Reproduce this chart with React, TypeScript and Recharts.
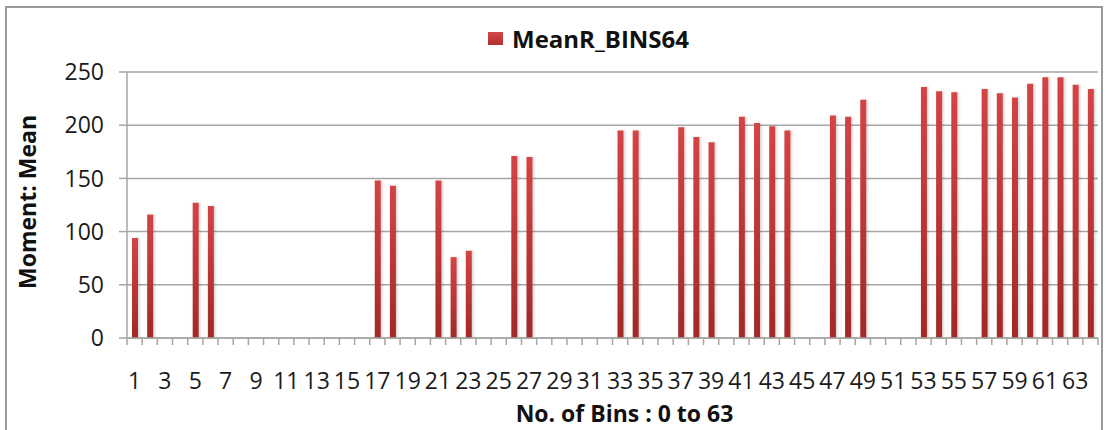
import React from 'react';
import { BarChart, Bar, XAxis, YAxis, CartesianGrid, Legend } from 'recharts';

const bins = [
  '1', '2', '3', '4', '5', '6', '7', '8', '9', '10', '11', '12', '13', '14', '15', '16',
  '17', '18', '19', '20', '21', '22', '23', '24', '25', '26', '27', '28', '29', '30', '31', '32',
  '33', '34', '35', '36', '37', '38', '39', '40', '41', '42', '43', '44', '45', '46', '47', '48',
  '49', '50', '51', '52', '53', '54', '55', '56', '57', '58', '59', '60', '61', '62', '63', '64',
];

const meanR = [
  94, 116, null, null, 127, 124, null, null, null, null, null, null, null, null, null, null,
  148, 143, null, null, 148, 76, 82, null, null, 171, 170, null, null, null, null, null,
  195, 195, null, null, 198, 189, 184, null, 208, 202, 199, 195, null, null, 209, 208,
  224, null, null, null, 236, 232, 231, null, 234, 230, 226, 239, 245, 245, 238, 234,
];

const yTicks = [0, 50, 100, 150, 200, 250];

const FONT = '"Open Sans", "Noto Sans", sans-serif';
const GRID = '#a6a6a6';

const data = bins.map((bin, i) => ({ bin, MeanR_BINS64: meanR[i] }));

// Excel puts category ticks between bars, labels on every other bin
function BinTick(props: any) {
  const { x, y, payload, index, visibleTicksCount } = props;
  const half = payload && payload.offset ? payload.offset : 7.6;
  const last = index === visibleTicksCount - 1;
  return (
    <g>
      <line x1={x - half} y1={y - 8} x2={x - half} y2={y - 1} stroke={GRID} strokeWidth={1.5} />
      {last && <line x1={x + half} y1={y - 8} x2={x + half} y2={y - 1} stroke={GRID} strokeWidth={1.5} />}
      {index % 2 === 0 && (
        <text x={x} y={y + 35} textAnchor="middle" dy="0.35em" fontFamily={FONT} fontSize={23} fill="#1a1a1a">
          {payload.value}
        </text>
      )}
    </g>
  );
}

function LegendBox() {
  return (
    <div style={{ display: 'flex', alignItems: 'center', fontFamily: FONT, fontSize: 24, fontWeight: 700, color: '#111' }}>
      <div style={{ width: 15, height: 13, marginRight: 9, background: 'linear-gradient(#d44848, #b12f2f)' }} />
      <span>MeanR_BINS64</span>
    </div>
  );
}

export default function App() {
  return (
    <div style={{ position: 'absolute', left: 0, top: 0, width: 1108, height: 430, overflow: 'hidden', background: '#fff' }}>
      <div style={{ position: 'absolute', left: 5, top: 6, width: 1094, height: 450, border: '2px solid #9a9a9a' }} />
      <BarChart
        width={1108}
        height={430}
        data={data}
        margin={{ top: 72, right: 10, left: 0, bottom: 0 }}
        barSize={6}
        style={{ position: 'absolute', left: 0, top: 0 }}
      >
        <defs>
          <linearGradient id="barFill" x1="0" y1="0" x2="0" y2="1">
            <stop offset="0%" stopColor="#d44444" />
            <stop offset="100%" stopColor="#a12929" />
          </linearGradient>
          <filter id="barShadow" x="-50%" y="-5%" width="200%" height="110%">
            <feDropShadow dx="1.5" dy="0" stdDeviation="1" floodColor="#000" floodOpacity="0.18" />
          </filter>
        </defs>
        <CartesianGrid vertical={false} stroke={GRID} strokeWidth={1.5} />
        <XAxis
          dataKey="bin"
          interval={0}
          height={92}
          axisLine={{ stroke: GRID, strokeWidth: 1.5 }}
          tickLine={false}
          tick={<BinTick />}
          label={({ viewBox }: any) => (
            <text
              x={viewBox.x + viewBox.width / 2 + 12}
              y={viewBox.y + 76}
              textAnchor="middle"
              dy="0.35em"
              fontFamily={FONT}
              fontSize={23}
              fontWeight={700}
              fill="#111"
            >
              No. of Bins : 0 to 63
            </text>
          )}
        />
        <YAxis
          width={127}
          domain={[0, 250]}
          ticks={yTicks}
          interval={0}
          axisLine={{ stroke: GRID, strokeWidth: 1.5 }}
          tickLine={{ stroke: GRID, strokeWidth: 1.5 }}
          tickSize={8}
          tickMargin={15}
          tick={{ fontFamily: FONT, fontSize: 23, fill: '#1a1a1a' }}
          label={({ viewBox }: any) => (
            <text
              x={28}
              y={viewBox.y + viewBox.height / 2 - 3}
              textAnchor="middle"
              dy="0.35em"
              transform={`rotate(-90, 28, ${viewBox.y + viewBox.height / 2 - 3})`}
              fontFamily={FONT}
              fontSize={23}
              fontWeight={700}
              fill="#111"
            >
              Moment: Mean
            </text>
          )}
        />
        <Legend
          layout="horizontal"
          verticalAlign="middle"
          align="center"
          content={<LegendBox />}
          wrapperStyle={{ top: 22, left: 488, width: 260, height: 32 }}
        />
        <Bar
          dataKey="MeanR_BINS64"
          fill="url(#barFill)"
          filter="url(#barShadow)"
          isAnimationActive={false}
        />
      </BarChart>
    </div>
  );
}
